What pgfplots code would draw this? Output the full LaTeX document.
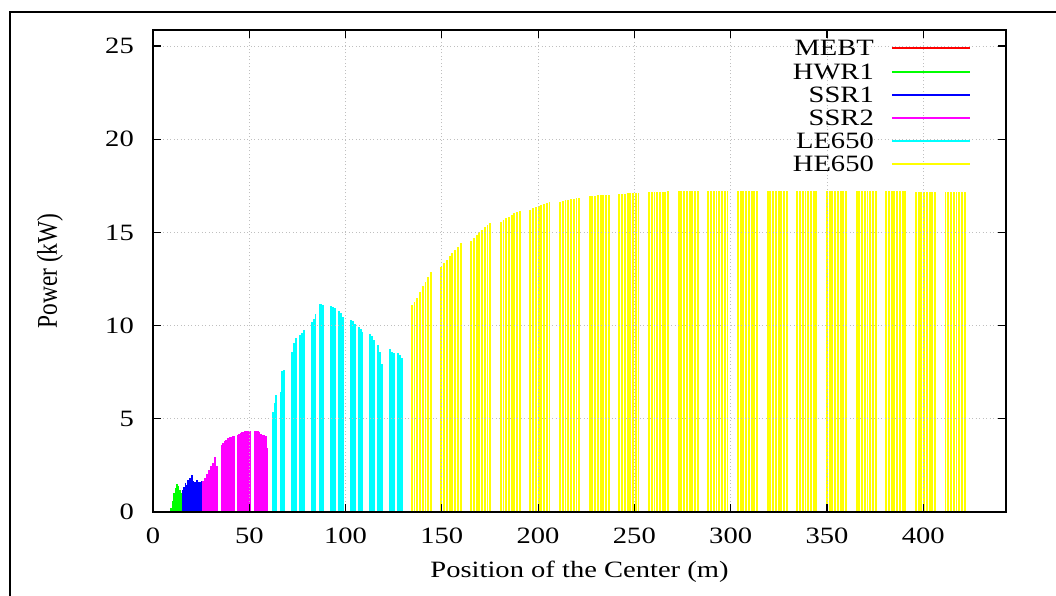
\documentclass[border=0pt]{standalone}
\usepackage{fontspec}
\setmainfont{Liberation Serif}[FakeStretch=1.22]
\newfontfamily\ylabfont{Liberation Serif}
\usepackage{graphicx}
\usepackage{pgfplots}
\pgfplotsset{compat=1.18}
\definecolor{gpred}{rgb}{1,0,0}
\definecolor{gpgreen}{rgb}{0,1,0}
\definecolor{gpblue}{rgb}{0,0,1}
\definecolor{gpmag}{rgb}{1,0,1}
\definecolor{gpcyan}{rgb}{0,1,1}
\definecolor{gpyel}{rgb}{1,1,0}
\newcommand\fsz{\fontsize{23.4bp}{28bp}\selectfont}
\pgfplotsset{combst/.style={ycomb, line width=1.9bp,
  legend image code/.code={\draw[##1, line width=2bp] (0bp,0bp) -- (78bp,0bp);}}}
\begin{document}
\begin{tikzpicture}[font=\fsz]
\useasboundingbox (-153bp,-84bp) rectangle (903bp,512bp);
\draw[line width=2bp] (-143bp,-90bp) -- (-143bp,500bp) -- (910bp,500bp);
\begin{axis}[
  scale only axis, width=853bp, height=482bp,
  xmin=0, xmax=443, ymin=0, ymax=25.86,
  xtick={0,50,...,400}, ytick={0,5,...,25},
  tick pos=both, tick align=inside, major tick length=8bp,
  every tick/.style={black, line width=1.2bp},
  axis line style={line width=1.6bp},
  axis on top=true,
  grid=major,
  major grid style={draw=gray!50, line width=0.7bp, dash pattern=on 1bp off 2.5bp},
  /pgf/number format/assume math mode=true,
  tick label style={font=\fsz},
  xticklabel style={inner sep=0pt, anchor=north, yshift=-16bp},
  yticklabel style={inner sep=0pt, anchor=east, xshift=-19bp},
  xlabel={Position of the Center (m)},
  xlabel style={font=\fsz, at={(axis description cs:0.5,0)}, anchor=center, yshift=-60bp},
  ylabel={\scalebox{1}[1.22]{\ylabfont Power (kW)}},
  ylabel style={font=\fsz, at={(axis description cs:0,0.5)}, anchor=center, rotate=0, yshift=103bp},
  legend plot pos=right,
  legend cell align=right,
  legend style={font=\fsz, at={(rel axis cs:1,1)}, anchor=north east, xshift=-35bp, yshift=-7.8bp,
    draw=none, fill=none, inner sep=0pt, row sep=2.2bp, column sep=17bp,
    nodes={inner sep=0pt, text height=18bp, text depth=3bp}},
]
\addplot[combst, color=gpred] coordinates {(1,0) (3,0) (5,0) (7,0)};
\addlegendentry{MEBT}
\addplot[combst, color=gpgreen] coordinates {(9.5,0.2) (10.23,0.6) (10.96,1.0) (11.69,1.3) (12.42,1.48) (13.15,1.4) (13.88,1.2) (14.61,1.0)};
\addlegendentry{HWR1}
\addplot[combst, color=gpblue] coordinates {(15.6,1.2) (16.24,1.35) (16.88,1.55) (17.52,1.45) (18.16,1.7) (18.8,1.6) (19.44,1.8) (20.08,2.0) (20.72,1.65) (21.36,1.55) (22.0,1.6) (22.64,1.7) (23.28,1.6) (23.92,1.62) (24.56,1.6) (25.2,1.65)};
\addlegendentry{SSR1}
\addplot[combst, color=gpmag] coordinates {(26.2,1.65) (27.2,1.85) (28.2,2.05) (29.2,2.25) (30.2,2.45) (31.2,2.65) (32.2,2.95) (33.2,2.45)
 (35.6,3.6) (36.43,3.7) (37.26,3.8) (38.09,3.88) (38.92,3.95) (39.75,4.0) (40.58,4.05) (41.41,4.08) (42.24,4.1)
 (44.0,4.15) (44.78,4.2) (45.56,4.25) (46.34,4.28) (47.12,4.31) (47.9,4.33) (48.68,4.35) (49.46,4.36) (50.24,4.36)
 (52.7,4.36) (53.53,4.36) (54.36,4.35) (55.19,4.3) (56.02,4.2) (56.85,4.15) (57.68,4.13) (58.51,4.1) (59.34,3.45)};
\addlegendentry{SSR2}
\addplot[combst, color=gpcyan] coordinates {(62.1,5.38) (63.1,5.83) (64.1,6.28) (66.2,6.45) (67.2,7.56) (68.2,7.62)
 (72.25,8.6) (73.25,9.05) (74.25,9.32) (76.35,9.5) (77.35,9.62) (78.35,9.76)
 (82.4,10.2) (83.4,10.34) (84.4,10.62) (86.5,11.16) (87.5,11.16) (88.5,11.09)
 (92.55,11.05) (93.55,11.01) (94.55,10.93) (96.65,10.8) (97.65,10.66) (98.65,10.48)
 (102.7,10.3) (103.7,10.25) (104.7,10.09) (106.8,9.94) (107.8,9.8) (108.8,9.67)
 (112.85,9.55) (113.85,9.42) (114.85,9.23) (116.95,8.96) (117.95,8.6) (118.95,7.94)
 (123.0,8.73) (124.0,8.6) (125.0,8.51) (127.1,8.51) (128.1,8.42) (129.1,8.24)};
\addlegendentry{LE650}
\addplot[combst, color=gpyel] table[row sep=\\] {
x y\\
134.4 11.1\\ 135.82 11.28\\ 137.24 11.5\\ 138.66 11.79\\ 140.08 12.12\\ 141.5 12.36\\ 142.92 12.62\\ 144.34 12.86\\
149.8 13.16\\ 151.22 13.34\\ 152.64 13.52\\ 154.06 13.73\\ 155.48 13.91\\ 156.9 14.06\\ 158.32 14.23\\ 159.74 14.41\\
165.2 14.56\\ 166.62 14.72\\ 168.04 14.86\\ 169.46 15.0\\ 170.88 15.13\\ 172.3 15.27\\ 173.72 15.38\\ 175.14 15.49\\
180.6 15.57\\ 182.02 15.67\\ 183.44 15.76\\ 184.86 15.84\\ 186.28 15.93\\ 187.7 16.02\\ 189.12 16.08\\ 190.54 16.15\\
196.0 16.2\\ 197.42 16.29\\ 198.84 16.38\\ 200.26 16.43\\ 201.68 16.49\\ 203.1 16.54\\ 204.52 16.58\\ 205.94 16.61\\
211.4 16.65\\ 212.82 16.68\\ 214.24 16.72\\ 215.66 16.75\\ 217.08 16.79\\ 218.5 16.81\\ 219.92 16.83\\ 221.34 16.85\\
226.8 16.93\\ 228.22 16.95\\ 229.64 16.97\\ 231.06 16.99\\ 232.48 17.0\\ 233.9 17.0\\ 235.32 17.02\\ 236.74 17.02\\
242.2 17.05\\ 243.62 17.07\\ 245.04 17.08\\ 246.46 17.1\\ 247.88 17.11\\ 249.3 17.12\\ 250.72 17.13\\ 252.14 17.14\\
257.6 17.15\\ 259.02 17.16\\ 260.44 17.17\\ 261.86 17.18\\ 263.28 17.18\\ 264.7 17.19\\ 266.12 17.19\\ 267.54 17.2\\
273.0 17.21\\ 274.42 17.21\\ 275.84 17.22\\ 277.26 17.22\\ 278.68 17.22\\ 280.1 17.22\\ 281.52 17.22\\ 282.94 17.22\\
288.4 17.22\\ 289.82 17.22\\ 291.24 17.22\\ 292.66 17.22\\ 294.08 17.22\\ 295.5 17.22\\ 296.92 17.22\\ 298.34 17.22\\
303.8 17.22\\ 305.22 17.23\\ 306.64 17.23\\ 308.06 17.23\\ 309.48 17.23\\ 310.9 17.23\\ 312.32 17.23\\ 313.74 17.23\\
319.2 17.23\\ 320.62 17.23\\ 322.04 17.23\\ 323.46 17.23\\ 324.88 17.23\\ 326.3 17.23\\ 327.72 17.23\\ 329.14 17.23\\
334.6 17.22\\ 336.02 17.22\\ 337.44 17.22\\ 338.86 17.22\\ 340.28 17.22\\ 341.7 17.22\\ 343.12 17.22\\ 344.54 17.22\\
350.0 17.21\\ 351.42 17.21\\ 352.84 17.21\\ 354.26 17.21\\ 355.68 17.21\\ 357.1 17.21\\ 358.52 17.21\\ 359.94 17.21\\
365.4 17.2\\ 366.82 17.2\\ 368.24 17.2\\ 369.66 17.2\\ 371.08 17.2\\ 372.5 17.2\\ 373.92 17.2\\ 375.34 17.2\\
380.8 17.2\\ 382.22 17.2\\ 383.64 17.2\\ 385.06 17.2\\ 386.48 17.2\\ 387.9 17.2\\ 389.32 17.2\\ 390.74 17.2\\
396.2 17.19\\ 397.62 17.19\\ 399.04 17.19\\ 400.46 17.19\\ 401.88 17.19\\ 403.3 17.19\\ 404.72 17.19\\ 406.14 17.19\\
411.6 17.18\\ 413.02 17.18\\ 414.44 17.18\\ 415.86 17.18\\ 417.28 17.18\\ 418.7 17.18\\ 420.12 17.18\\ 421.54 17.18\\
};
\addlegendentry{HE650}
\end{axis}
\end{tikzpicture}
\end{document}
